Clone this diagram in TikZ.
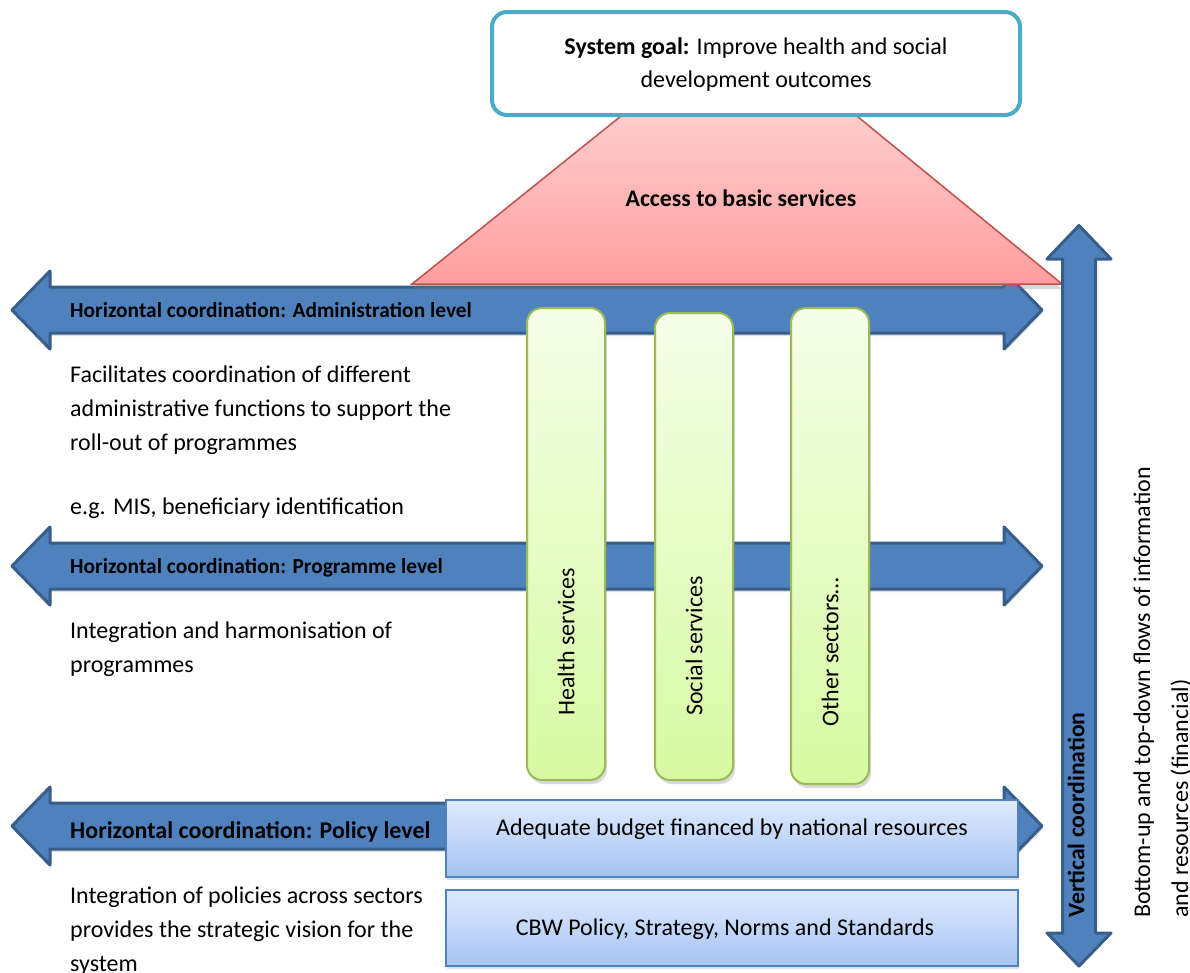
\documentclass[tikz,border=0pt]{standalone}
\usepackage{fontspec}
\setmainfont{Carlito}
\usetikzlibrary{shadows}

\definecolor{arrowblue}{HTML}{4F81BD}
\definecolor{arrowedge}{HTML}{385D8A}
\definecolor{goalteal}{HTML}{4BACC6}
\definecolor{trapedge}{HTML}{C0504D}
\definecolor{traptop}{HTML}{FFCDCD}
\definecolor{trapbot}{HTML}{FF9E9E}
\definecolor{pillartop}{HTML}{F5FFE8}
\definecolor{pillarbot}{HTML}{D8F9A3}
\definecolor{pillaredge}{HTML}{9BBB59}
\definecolor{basetop}{HTML}{DFEAFC}
\definecolor{basebot}{HTML}{A5C3F3}

% horizontal double arrow: centre y, left tip, right tip
\newcommand{\hdoublearrow}[3]{%
  \draw[hbar] (#2,#1) -- (#2+38,#1-39) -- (#2+38,#1-23) -- (#3-38,#1-23)
    -- (#3-38,#1-39) -- (#3,#1) -- (#3-38,#1+39) -- (#3-38,#1+23)
    -- (#2+38,#1+23) -- (#2+38,#1+39) -- cycle;}

\begin{document}
\begin{tikzpicture}[x=1pt,y=-1pt,
  hbar/.style={fill=arrowblue, draw=arrowedge, line width=3pt, line join=round,
    drop shadow={opacity=0.25, shadow xshift=1pt, shadow yshift=-3pt}},
  body/.style={font=\fontsize{24}{34}\selectfont, anchor=base west, inner sep=0pt, align=left},
  barlabel/.style={font=\bfseries\fontsize{21.4}{24}\selectfont, anchor=base west, inner sep=0pt},
  pillar/.style={draw=pillaredge, line width=2pt, rounded corners=15pt,
    top color=pillartop, bottom color=pillarbot,
    drop shadow={opacity=0.3, shadow xshift=2pt, shadow yshift=-4pt}},
  pillartext/.style={font=\fontsize{24}{28}\selectfont, rotate=90, inner sep=0pt},
  basebox/.style={draw=arrowblue, line width=1.5pt, top color=basetop, bottom color=basebot,
    drop shadow={opacity=0.25, shadow xshift=1pt, shadow yshift=-3pt}},
  basetext/.style={font=\fontsize{24}{28}\selectfont, anchor=base, inner sep=0pt},
  flowtext/.style={font=\fontsize{24}{28}\selectfont, rotate=90, anchor=base west, inner sep=0pt}
]
\useasboundingbox (0,0) rectangle (1190,972);

% horizontal coordination bars
\hdoublearrow{310}{12}{1042}
\hdoublearrow{566}{12}{1042}
\hdoublearrow{826}{12}{1042}

% access trapezoid
\draw[draw=trapedge, line width=1.5pt, top color=traptop, bottom color=trapbot,
  drop shadow={opacity=0.3, shadow xshift=0pt, shadow yshift=-5pt}]
  (412,284) -- (626,112) -- (852,112) -- (1062,284) -- cycle;
\node[font=\bfseries\fontsize{23.8}{28}\selectfont, anchor=base, inner sep=0pt] (access) at (741,206) {Access to basic services};

% system goal
\draw[draw=goalteal, line width=4pt, fill=white, rounded corners=15pt] (492,12) rectangle (1020,115);
\node[font=\fontsize{24}{33}\selectfont, align=center, anchor=base, inner sep=0pt] (goal) at (756,87)
  {\textbf{System goal:} Improve health and social\\development outcomes};

% vertical coordination arrow
\draw[fill=arrowblue, draw=arrowedge, line width=3pt, line join=round]
  (1079,225.5) -- (1111,259) -- (1095.5,259) -- (1095.5,933) -- (1111,933) -- (1079,966)
  -- (1047,933) -- (1062.5,933) -- (1062.5,259) -- (1047,259) -- cycle;
\node[font=\bfseries\fontsize{23.7}{28}\selectfont, rotate=90, inner sep=0pt] (vert) at (1076,815) {Vertical coordination};

% sector pillars
\draw[pillar] (527,308) rectangle (605,780);
\draw[pillar] (655,313) rectangle (733,780);
\draw[pillar] (791,308) rectangle (869,784);
\node[pillartext] (health) at (566,642) {Health services};
\node[pillartext] (social) at (694,646) {Social services};
\node[pillartext] (other) at (830,652) {Other sectors…};

% foundation boxes
\draw[basebox] (446,800) rectangle (1018,877);
\draw[basebox] (446,890) rectangle (1018,966);
\node[basetext] (budget) at (732,835) {Adequate budget financed by national resources};
\node[basetext] (cbw) at (725,935) {CBW Policy, Strategy, Norms and Standards};

% bar labels
\node[barlabel] (admin) at (70,317) {Horizontal coordination: Administration level};
\node[barlabel] (prog) at (70,573) {Horizontal coordination: Programme level};
\node[barlabel, font=\bfseries\fontsize{24}{28}\selectfont] (policy) at (70,838) {Horizontal coordination: Policy level};

% descriptions (anchored at the baseline of their last line)
\node[body] (admintxt) at (70,450) {Facilitates coordination of different\\administrative functions to support the\\roll-out of programmes};
\node[body] (eg) at (70,514) {e.g. MIS, beneficiary identification};
\node[body] (progtxt) at (70,672) {Integration and harmonisation of\\programmes};
\node[body] (policytxt) at (70,971) {Integration of policies across sectors\\provides the strategic vision for the\\system};

% flows description
\node[flowtext] (flow1) at (1150,918) {Bottom-up and top-down flows of information};
\node[flowtext] (flow2) at (1188,918) {and resources (financial)};
\end{tikzpicture}
\end{document}
